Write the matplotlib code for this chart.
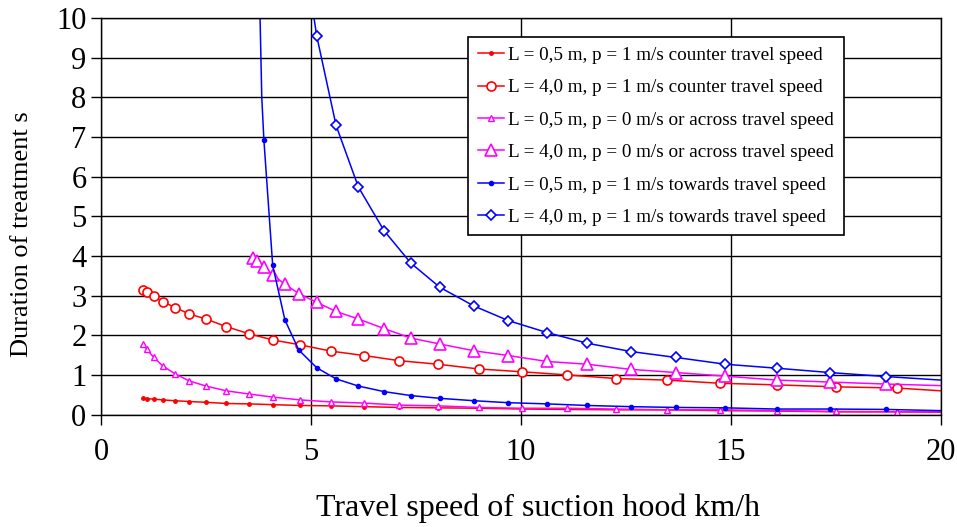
import matplotlib.pyplot as plt

plt.rcParams['font.family'] = ['Liberation Serif', 'DejaVu Serif']

# travel speed grids (km/h); last value 20 is the line end, no marker
speed_a = [1.00, 1.09, 1.26, 1.47, 1.76, 2.10, 2.50, 2.98, 3.52, 4.10, 4.74, 5.48,
           6.26, 7.10, 8.02, 9.00, 10.02, 11.11, 12.26, 13.47, 14.74, 16.09, 17.50,
           18.95, 20.0]
speed_b = [3.63, 3.72, 3.88, 4.09, 4.38, 4.71, 5.14, 5.60, 6.13, 6.74, 7.38, 8.07,
           8.88, 9.70, 10.62, 11.58, 12.62, 13.70, 14.87, 16.09, 17.36, 18.69, 20.0]

# duration of treatment (s)
t_05_counter = [0.41, 0.40, 0.39, 0.37, 0.35, 0.33, 0.31, 0.28, 0.27, 0.25, 0.23, 0.22,
                0.20, 0.18, 0.17, 0.16, 0.14, 0.13, 0.12, 0.12, 0.10, 0.09, 0.07, 0.07,
                0.06]
t_40_counter = [3.15, 3.09, 2.98, 2.85, 2.70, 2.54, 2.41, 2.22, 2.04, 1.88, 1.76, 1.60,
                1.49, 1.36, 1.27, 1.15, 1.08, 1.00, 0.91, 0.87, 0.79, 0.75, 0.70, 0.67,
                0.60]
t_05_across = [1.78, 1.65, 1.44, 1.23, 1.03, 0.85, 0.72, 0.60, 0.52, 0.44, 0.37, 0.32,
               0.29, 0.24, 0.22, 0.18, 0.16, 0.16, 0.14, 0.12, 0.12, 0.10, 0.08, 0.07,
               0.07]
t_40_across = [3.95, 3.88, 3.73, 3.52, 3.29, 3.05, 2.83, 2.60, 2.41, 2.17, 1.93, 1.78,
               1.61, 1.49, 1.34, 1.27, 1.14, 1.06, 0.97, 0.87, 0.82, 0.77, 0.73]

# towards curves start above the top of the axis (first points have no marker)
speed_05_towards = [3.785, 3.83] + speed_b[2:]
t_05_towards = [10.2, 8.0, 6.93, 3.76, 2.39, 1.63, 1.18, 0.90, 0.72, 0.58, 0.48, 0.41,
                0.35, 0.30, 0.27, 0.23, 0.20, 0.18, 0.17, 0.14, 0.14, 0.13, 0.10]
speed_40_towards = [5.03] + speed_b[6:]
t_40_towards = [10.3, 9.54, 7.29, 5.74, 4.64, 3.82, 3.21, 2.74, 2.37, 2.07, 1.80, 1.59,
                1.44, 1.27, 1.17, 1.06, 0.96, 0.87]

labels = ['L = 0,5 m, p = 1 m/s counter travel speed',
          'L = 4,0 m, p = 1 m/s counter travel speed',
          'L = 0,5 m, p = 0 m/s or across travel speed',
          'L = 4,0 m, p = 0 m/s or across travel speed',
          'L = 0,5 m, p = 1 m/s towards travel speed',
          'L = 4,0 m, p = 1 m/s towards travel speed']

red, magenta, blue = '#ff0000', '#ff00ff', '#0000ff'

fig, ax = plt.subplots(figsize=(9.57, 5.27), dpi=100)
fig.subplots_adjust(left=0.1055, right=0.983, bottom=0.2133, top=0.9658)

lw = 1.1
ax.plot(speed_a, t_05_counter, color=red, lw=lw, marker='o', ms=2.5,
        markevery=slice(0, -1), label=labels[0])
ax.plot(speed_a, t_40_counter, color=red, lw=lw, marker='o', ms=6.5, mfc='white',
        mew=1.2, markevery=slice(0, -1), label=labels[1])
ax.plot(speed_a, t_05_across, color=magenta, lw=lw, marker='^', ms=4, mfc='white',
        mew=1.0, markevery=slice(0, -1), label=labels[2])
ax.plot(speed_b, t_40_across, color=magenta, lw=lw, marker='^', ms=8, mfc='white',
        mew=1.2, markevery=slice(0, -1), label=labels[3])
ax.plot(speed_05_towards, t_05_towards, color=blue, lw=lw, marker='o', ms=3,
        markevery=slice(2, -1), label=labels[4])
ax.plot(speed_40_towards, t_40_towards, color=blue, lw=lw, marker='D', ms=5.5,
        mfc='white', mew=1.2, markevery=slice(1, -1), label=labels[5])

ax.set_xlim(0, 20)
ax.set_ylim(0, 10)
ax.set_xticks([0, 5, 10, 15, 20])
ax.set_yticks(range(0, 11))
ax.grid(True, color='black', linewidth=1.0)
ax.set_axisbelow(True)
ax.tick_params(direction='out', length=7, width=1.0, labelsize=22, colors='black')
ax.tick_params(axis='x', pad=10)
for s in ax.spines.values():
    s.set_color('black')
    s.set_linewidth(1.0)

ax.set_xlabel('Travel speed of suction hood km/h', fontsize=23)
ax.set_ylabel('Duration of treatment s', fontsize=19)
ax.xaxis.set_label_coords(0.52, -0.2)
ax.yaxis.set_label_coords(-0.081, 0.455)

leg = ax.legend(loc='upper left', bbox_to_anchor=(0.437, 0.952), borderaxespad=0,
                fontsize=13.8, frameon=True, fancybox=False, edgecolor='black',
                framealpha=1, handlelength=1.4, handletextpad=0.2, labelspacing=0.78,
                borderpad=0.5)
leg.get_frame().set_linewidth(1.2)

plt.savefig('out.png', dpi=100)
